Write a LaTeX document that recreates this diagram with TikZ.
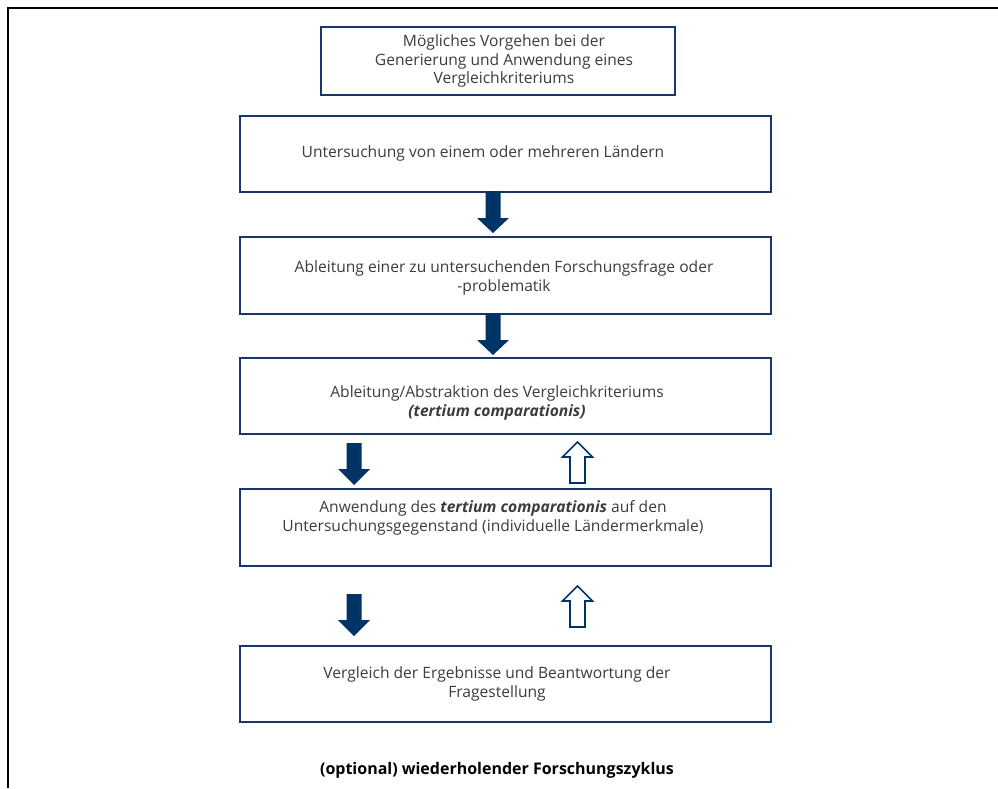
\documentclass[tikz,border=0pt]{standalone}
\usepackage{fontspec}
\setmainfont{Open Sans}
\usetikzlibrary{positioning}
\definecolor{boxblue}{RGB}{23,55,110}
\definecolor{arrowblue}{RGB}{0,51,102}
\definecolor{txt}{RGB}{60,60,60}
\tikzset{
  stepbox/.style={draw=boxblue, line width=1.3pt, fill=white},
  label/.style={text=txt, align=center, font=\fontsize{11.7}{14.2}\selectfont, inner sep=0pt},
  downarrow/.style={fill=arrowblue, draw=none},
  uparrow/.style={draw=arrowblue, fill=white, line width=1.2pt, line join=miter},
}
% down arrow: #1 = centre x, #2 = top y, #3 = head y, #4 = tip y
\newcommand{\downarr}[5]{%
  \fill[downarrow] (#1-7.5,#2) -- (#1+7.5,#2) -- (#1+7.5,#3) -- (#1+16,#3) -- (#1,#4) -- (#1-16,#3) -- (#1-7.5,#3) -- cycle;
  \coordinate (#5) at (#1,#4);}
% hollow up arrow: #1 = centre x, #2 = tip y, #3 = head base y, #4 = bottom y
\newcommand{\uparr}[5]{%
  \draw[uparrow] (#1,#2) -- (#1+15,#3) -- (#1+7.5,#3) -- (#1+7.5,#4) -- (#1-7.5,#4) -- (#1-7.5,#3) -- (#1-15,#3) -- cycle;
  \coordinate (#5) at (#1,#2);}
\begin{document}
\begin{tikzpicture}[x=0.75pt, y=-0.75pt]
\useasboundingbox (0,0) rectangle (998,788);
% outer frame (open to the right and bottom)
\draw[black, line width=1pt] (8,788) -- (8,8) -- (998,8);

% boxes
\node[stepbox, minimum width=354*0.75pt, minimum height=68*0.75pt, anchor=north west] (title) at (320,26) {};
\node[stepbox, minimum width=531*0.75pt, minimum height=76*0.75pt, anchor=north west] (b1) at (239,115) {};
\node[stepbox, minimum width=531*0.75pt, minimum height=77*0.75pt, anchor=north west] (b2) at (239,236) {};
\node[stepbox, minimum width=531*0.75pt, minimum height=76*0.75pt, anchor=north west] (b3) at (239,357) {};
\node[stepbox, minimum width=531*0.75pt, minimum height=77*0.75pt, anchor=north west] (b4) at (239,488) {};
\node[stepbox, minimum width=531*0.75pt, minimum height=76*0.75pt, anchor=north west] (b5) at (239,645) {};

% texts
\node[label] (t0) at (504,61) {Mögliches Vorgehen bei der\\Generierung und Anwendung eines\\Vergleichkriteriums};
\node[label] (t1) at (483,153) {Untersuchung von einem oder mehreren Ländern};
\node[label] (t2) at (504,278) {Ableitung einer zu untersuchenden Forschungsfrage oder\\-problematik};
\node[label] (t3) at (497,403) {Ableitung/Abstraktion des Vergleichkriteriums\\\textbf{\textit{(tertium comparationis)}}};
\node[label] (t4) at (493,518) {Anwendung des \textbf{\textit{tertium comparationis}} auf den\\Untersuchungsgegenstand (individuelle Ländermerkmale)};
\node[label] (t5) at (497,684) {Vergleich der Ergebnisse und Beantwortung der\\Fragestellung};
\node[label, font=\bfseries\fontsize{12}{14}\selectfont, text=black] (cyc) at (497,770) {(optional) wiederholender Forschungszyklus};

% arrows
\downarr{493}{191}{218}{233}{a1}
\downarr{493}{313}{340}{355}{a2}
\downarr{354}{443}{469}{485}{a3}
\uparr{577.5}{442}{457}{483}{u1}
\downarr{354}{594}{620}{636}{a4}
\uparr{577.5}{586}{601}{627}{u2}
\end{tikzpicture}
\end{document}
